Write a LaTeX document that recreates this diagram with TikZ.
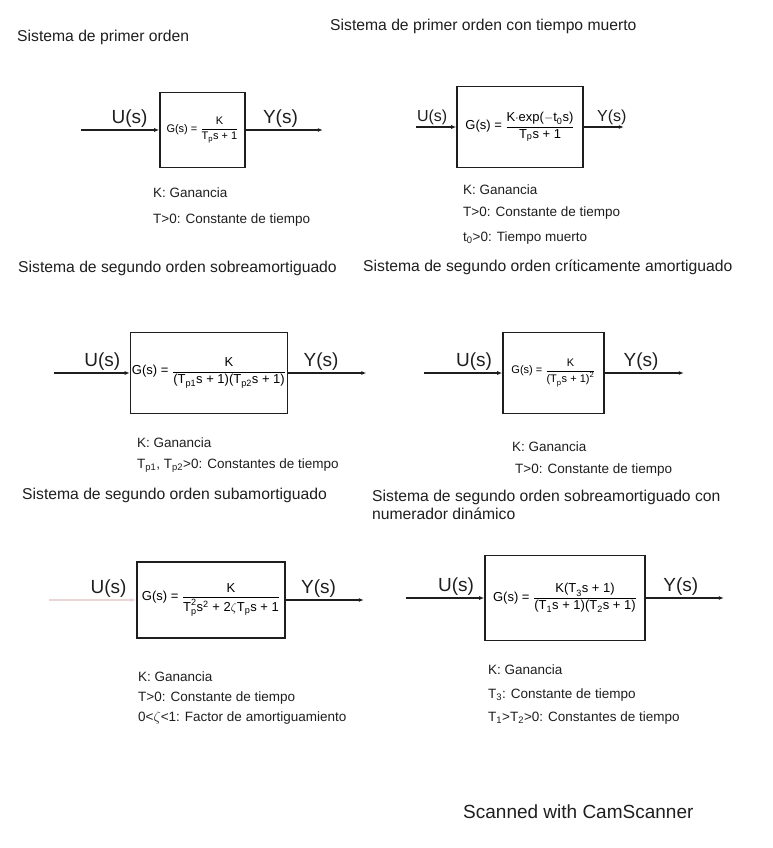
\documentclass[tikz,border=0pt]{standalone}
\usepackage{amsmath}
\usepackage{fontspec}
\setmainfont{Liberation Sans}
\usepackage{tikz}
\usetikzlibrary{arrows.meta,positioning}
\definecolor{scanink}{HTML}{1E1E1E}
\definecolor{scanfade}{HTML}{E8D6D6}
\tikzset{
  block/.style = {draw=scanink, line width=1.6pt, inner sep=1.5pt, align=center,
                  font=\fontsize{13}{15}\selectfont},
  small/.style = {font=\fontsize{11}{13}\selectfont},
  sig/.style   = {-{Latex[length=5pt,width=4pt]}, line width=1.3pt, draw=scanink},
  io/.style    = {font=\fontsize{19}{21}\selectfont, inner sep=1.5pt, text=scanink},
  ttl/.style   = {font=\fontsize{15.7}{17}\selectfont, anchor=west, inner sep=0pt, text=scanink},
  note/.style  = {font=\fontsize{13.5}{15}\selectfont, anchor=west, inner sep=0pt, text=scanink},
}

\begin{document}
\begin{tikzpicture}[x=1pt, y=-1pt]
  \useasboundingbox (0,0) rectangle (772,848);
  % titles
  \node[ttl] (t1) at (17,37)  {Sistema de primer orden};
  \node[ttl] (t2) at (330,26) {Sistema de primer orden con tiempo muerto};
  \node[ttl] (t3) at (18,268) {Sistema de segundo orden sobreamortiguado};
  \node[ttl] (t4) at (363,267) {Sistema de segundo orden críticamente amortiguado};
  \node[ttl] (t5) at (22,495) {Sistema de segundo orden subamortiguado};
  \node[ttl] (t6) at (372,497) {Sistema de segundo orden sobreamortiguado con};
  \node[ttl] (t6b) at (372,514) {numerador dinámico};

  % first order
  \node[block, small, minimum width=85pt, minimum height=75pt] (po) at (202.5,130)
    {\text{G(s) =} $\dfrac{\text{K}}{\text{T}_\text{p}\text{s + 1}}$};
  \coordinate[left=78pt of po.west] (u1);
  \coordinate[right=77pt of po.east] (y1);
  \draw[sig] (u1) -- node[io, above, pos=0.62] {U(s)} (po.west);
  \draw[sig] (po.east) -- node[io, above, pos=0.45] {Y(s)} (y1);
  \node[note] at (153,193) {K: Ganancia};
  \node[note] at (153,220) {T>0: Constante de tiempo};

  % first order with dead time
  \node[block, minimum width=126pt, minimum height=81pt] (potm) at (520,127)
    {G(s) = $\dfrac{\text{K$\cdot$exp($-$t}_\text{0}\text{s)}}{\text{T}_\text{p}\text{s + 1}}$};
  \coordinate[left=40pt of potm.west] (u2);
  \coordinate[right=40pt of potm.east] (y2);
  \draw[sig] (u2) -- node[io, above, pos=0.4, font=\fontsize{16}{18}\selectfont] {U(s)} (potm.west);
  \draw[sig] (potm.east) -- node[io, above, pos=0.7, font=\fontsize{16}{18}\selectfont] {Y(s)} (y2);
  \node[note] at (463,190) {K: Ganancia};
  \node[note] at (463,213) {T>0: Constante de tiempo};
  \node[note] at (463,238) {t\textsubscript{0}>0: Tiempo muerto};

  % second order, overdamped
  \node[block, minimum width=152pt, minimum height=81pt] (sosa) at (209,373)
    {G(s) = $\dfrac{\text{K}}{\text{(T}_\text{p1}\text{s + 1)(T}_\text{p2}\text{s + 1)}}$};
  \coordinate[left=76pt of sosa.west] (u3);
  \coordinate[right=78pt of sosa.east] (y3);
  \draw[sig] (u3) -- node[io, above, pos=0.64] {U(s)} (sosa.west);
  \draw[sig] (sosa.east) -- node[io, above, pos=0.42] {Y(s)} (y3);
  \node[note] at (137,443) {K: Ganancia};
  \node[note] at (137,466) {T\textsubscript{p1}, T\textsubscript{p2}>0: Constantes de tiempo};

  % second order, critically damped
  \node[block, small, minimum width=101pt, minimum height=81pt] (soca) at (553.5,373)
    {G(s) = $\dfrac{\text{K}}{\text{(T}_\text{p}\text{s + 1)}^\text{2}}$};
  \coordinate[left=78pt of soca.west] (u4);
  \coordinate[right=79pt of soca.east] (y4);
  \draw[sig] (u4) -- node[io, above, pos=0.64] {U(s)} (soca.west);
  \draw[sig] (soca.east) -- node[io, above, pos=0.46] {Y(s)} (y4);
  \node[note] at (512,447) {K: Ganancia};
  \node[note] at (515,470) {T>0: Constante de tiempo};

  % second order, underdamped
  \node[block, minimum width=148pt, minimum height=76pt] (sosu) at (211,600)
    {G(s) = $\dfrac{\text{K}}{\text{T}_\text{p}^\text{2}\text{s}^\text{2}\text{ + 2}\zeta\text{T}_\text{p}\text{s + 1}}$};
  \coordinate[left=87pt of sosu.west] (u5);
  \coordinate[right=78pt of sosu.east] (y5);
  \draw[sig, draw=scanfade] (u5) -- (sosu.west);
  \node[io, above left=1pt and 8pt of sosu.west] (u5l) {U(s)};
  \draw[sig] (sosu.east) -- node[io, above, pos=0.42] {Y(s)} (y5);
  \node[note] at (138,677) {K: Ganancia};
  \node[note] at (138,698) {T>0: Constante de tiempo};
  \node[note] at (138,718) {0<$\zeta$<1: Factor de amortiguamiento};

  % second order with numerator dynamics
  \node[block, minimum width=160pt, minimum height=85pt] (sond) at (565,598)
    {G(s) = $\dfrac{\text{K(T}_\text{3}\text{s + 1)}}{\text{(T}_\text{1}\text{s + 1)(T}_\text{2}\text{s + 1)}}$};
  \coordinate[left=78pt of sond.west] (u6);
  \coordinate[right=78pt of sond.east] (y6);
  \draw[sig] (u6) -- node[io, above, pos=0.64] {U(s)} (sond.west);
  \draw[sig] (sond.east) -- node[io, above, pos=0.45] {Y(s)} (y6);
  \node[note] at (488,670) {K: Ganancia};
  \node[note] at (488,695) {T\textsubscript{3}: Constante de tiempo};
  \node[note] at (488,718) {T\textsubscript{1}>T\textsubscript{2}>0: Constantes de tiempo};

  \node[font=\fontsize{19}{21}\selectfont, anchor=west, inner sep=0pt, text=scanink]
    (scan) at (463,812) {Scanned with CamScanner};
\end{tikzpicture}
\end{document}
